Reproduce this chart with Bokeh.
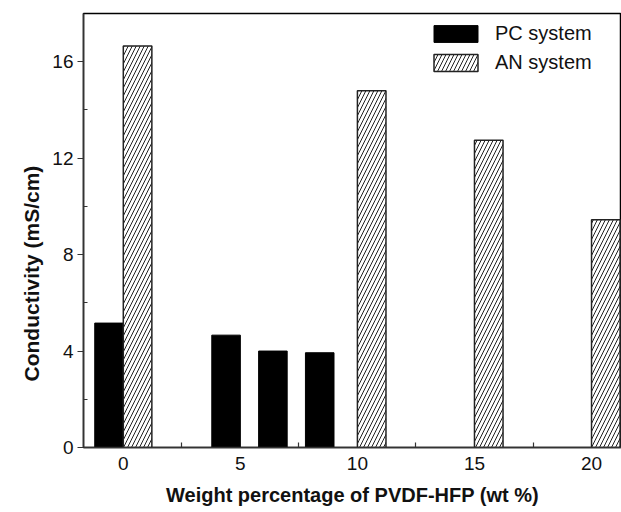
from bokeh.plotting import figure
from bokeh.models import ColumnDataSource, FixedTicker, Range1d, Legend, LegendItem, Title
from bokeh.transform import dodge
from bokeh.embed import file_html
from bokeh.resources import INLINE

# ---- data ----
pc_wt = [0, 5, 7, 9]
pc_cond = [5.16, 4.66, 4.0, 3.93]
an_wt = [0, 10, 15, 20]
an_cond = [16.65, 14.8, 12.74, 9.45]
x_ticks = [0, 5, 10, 15, 20]
x_minor = [2.5, 7.5, 12.5, 17.5]
y_ticks = [0, 4, 8, 12, 16]
y_minor = [2, 6, 10, 14]
series_names = ["PC system", "AN system"]
x_title = "Weight percentage of PVDF-HFP (wt %)"
y_title = "Conductivity (mS/cm)"

FONT = "Liberation Sans"
BW = 1.22

pc_src = ColumnDataSource(dict(x=pc_wt, y=pc_cond))
an_src = ColumnDataSource(dict(x=an_wt, y=an_cond))

p = figure(width=621, height=512, output_backend="svg", toolbar_location=None,
           x_range=Range1d(-1.7, 21.28), y_range=Range1d(0, 18.0),
           min_border_left=83, min_border_right=0, min_border_top=13, min_border_bottom=65)

r_pc = p.vbar(x=dodge("x", -BW / 2, range=p.x_range), top="y", width=BW, source=pc_src,
              fill_color="black", line_color="black", line_width=1)
r_an = p.vbar(x=dodge("x", BW / 2, range=p.x_range), top="y", width=BW, source=an_src,
              fill_color="white", line_color="#222222", line_width=1.5,
              hatch_pattern="/", hatch_color="#222222", hatch_scale=8, hatch_weight=1)

p.grid.visible = False
p.outline_line_color = "black"
p.outline_line_width = 1.5
p.background_fill_color = "white"
p.border_fill_color = "white"

p.xaxis.ticker = FixedTicker(ticks=x_ticks, minor_ticks=x_minor)
p.yaxis.ticker = FixedTicker(ticks=y_ticks, minor_ticks=y_minor)

for ax in (p.xaxis[0], p.yaxis[0]):
    ax.axis_line_color = "#333333"
    ax.axis_line_width = 1.5
    ax.major_tick_line_color = "#333333"
    ax.minor_tick_line_color = "#333333"
    ax.major_tick_line_width = 1.2
    ax.minor_tick_line_width = 1.2
    ax.major_label_text_font = FONT
    ax.major_label_text_font_size = "19px"
    ax.major_label_text_color = "#111111"
    ax.axis_label_text_font = FONT
    ax.axis_label_text_font_size = "20px"
    ax.axis_label_text_font_style = "bold"
    ax.axis_label_text_color = "#111111"

p.xaxis.axis_label = x_title
p.xaxis.major_tick_in = 0
p.xaxis.major_tick_out = 0
p.xaxis.minor_tick_in = 5
p.xaxis.minor_tick_out = 0
p.xaxis.major_label_standoff = 9
p.xaxis.axis_label_standoff = 11

p.yaxis.major_tick_in = 0
p.yaxis.major_tick_out = 6
p.yaxis.minor_tick_in = 4
p.yaxis.minor_tick_out = 0
p.yaxis.major_label_standoff = 4

# y-axis title as a side title, shifted down as in the reference
p.add_layout(Title(text=y_title, align="left", offset=66, standoff=14,
                   vertical_align="bottom",
                   text_font=FONT, text_font_size="21px", text_font_style="bold",
                   text_color="#111111"), "left")

legend = Legend(items=[LegendItem(label=series_names[0], renderers=[r_pc]),
                       LegendItem(label=series_names[1], renderers=[r_an])],
                location=(345, 373))
legend.border_line_color = None
legend.background_fill_alpha = 0
legend.padding = 0
legend.margin = 0
legend.spacing = 6
legend.glyph_width = 55
legend.glyph_height = 21
legend.label_height = 21
legend.label_standoff = 12
legend.label_text_font = FONT
legend.label_text_font_size = "20px"
legend.label_text_color = "#111111"
p.add_layout(legend)

open("out.html", "w").write(file_html(p, INLINE))
